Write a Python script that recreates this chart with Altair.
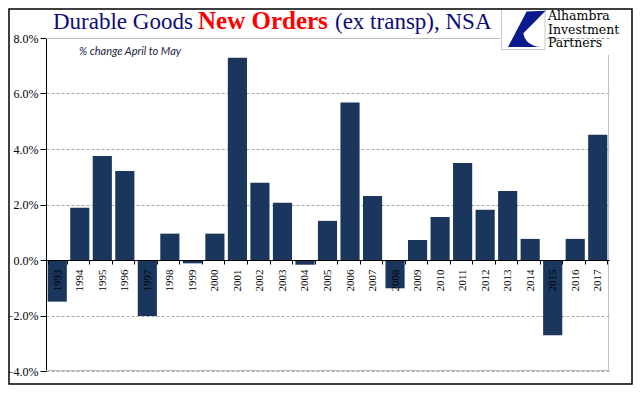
import altair as alt
import pandas as pd

# ---- data ----
years = ["1993", "1994", "1995", "1996", "1997", "1998", "1999", "2000", "2001",
         "2002", "2003", "2004", "2005", "2006", "2007", "2008", "2009", "2010",
         "2011", "2012", "2013", "2014", "2015", "2016", "2017"]
changes = [-1.50, 1.88, 3.75, 3.21, -2.02, 0.95, -0.12, 0.95, 7.29,
           2.78, 2.06, -0.17, 1.41, 5.68, 2.31, -1.02, 0.72, 1.55,
           3.50, 1.81, 2.49, 0.76, -2.71, 0.76, 4.51]
y_ticks = [-4, -2, 0, 2, 4, 6, 8]
y_domain = [-4, 8]
title_parts = ["Durable Goods", "New Orders", "(ex transp), NSA"]
subtitle = "% change April to May"
logo_lines = ["Alhambra", "Investment", "Partners"]

# ---- layout ----
W, H = 563, 333
SERIF = "Liberation Serif"
BAR = "#1a365d"
NAVY = "#0c0c7a"

df = pd.DataFrame({"year": years, "change": changes})
one = pd.DataFrame({"k": [0]})

x = alt.X("year:O", sort=None, title=None,
          scale=alt.Scale(paddingInner=0.15, paddingOuter=0.075),
          axis=alt.Axis(orient="bottom", offset=-H / 3, labelAngle=270,
                        labelFont=SERIF, labelFontSize=11, labelColor="black",
                        domainColor="black", tickColor="black", tickSize=4,
                        tickBand="extent", labelPadding=5, grid=False, zindex=1))
y = alt.Y("change:Q", title=None,
          scale=alt.Scale(domain=y_domain, nice=False),
          axis=alt.Axis(values=y_ticks,
                        labelExpr="format(datum.value, '.1f') + '%'",
                        grid=True, gridDash=[3, 2], gridColor="#a6a6a6",
                        domainColor="black", tickColor="black", tickSize=6,
                        labelFont=SERIF, labelFontSize=12, labelColor="black",
                        labelPadding=2))

bars = alt.Chart(df).mark_bar(color=BAR).encode(x=x, y=y, y2=alt.datum(0))

base = alt.Chart(one)

# plot border (top / right / bottom), gray
top_line = base.mark_rule(color="#bfbfbf", strokeWidth=1).encode(
    x=alt.value(0), x2=alt.value(454), y=alt.value(0.5))
right_line = base.mark_rule(color="#bfbfbf", strokeWidth=1).encode(
    x=alt.value(W - 0.5), y=alt.value(17), y2=alt.value(H))
bottom_line = base.mark_rule(color="#bfbfbf", strokeWidth=1).encode(
    x=alt.value(0), x2=alt.value(W), y=alt.value(H - 0.5))

# title pieces
t1 = base.mark_text(font=SERIF, fontSize=23, color=NAVY, align="left",
                    baseline="alphabetic").encode(
    x=alt.value(7), y=alt.value(-9), text=alt.value(title_parts[0]))
t2 = base.mark_text(font=SERIF, fontSize=25, fontWeight="bold", color="#ff0000",
                    align="left", baseline="alphabetic").encode(
    x=alt.value(152), y=alt.value(-9), text=alt.value(title_parts[1]))
t3 = base.mark_text(font=SERIF, fontSize=23, color=NAVY, align="left",
                    baseline="alphabetic").encode(
    x=alt.value(289), y=alt.value(-9), text=alt.value(title_parts[2]))

sub = base.mark_text(font="Lato", fontSize=11, fontStyle="italic", color="#1c2540",
                     align="left", baseline="alphabetic").encode(
    x=alt.value(33), y=alt.value(17), text=alt.value(subtitle))

# logo
logo_box = base.mark_rect(fill="white", stroke="#c8c8c8", strokeWidth=1).encode(
    x=alt.value(455.5), x2=alt.value(499), y=alt.value(-30.5), y2=alt.value(11.5))
logo_path = "M-0.02,-0.92L0.98,-0.96L-0.19,0.22Q-0.1,0.83 0.68,0.95L-1,0.95Z"
logo_mark = base.mark_point(shape=logo_path, filled=True, size=1444,
                            color="#0a1a8c", opacity=1).encode(
    x=alt.value(481), y=alt.value(-9))
logo_txt = [
    base.mark_text(font="DejaVu Serif", fontSize=12.5, color="black", align="left",
                   baseline="alphabetic").encode(
        x=alt.value(502), y=alt.value(yy), text=alt.value(s))
    for s, yy in zip(logo_lines, [-18, -4.5, 9])
]

# outer frame
frame = base.mark_rect(fill="transparent", stroke="black", strokeWidth=1.5).encode(
    x=alt.value(-37), x2=alt.value(586), y=alt.value(-29), y2=alt.value(346))

chart = alt.layer(
    bars, top_line, right_line, bottom_line, t1, t2, t3, sub,
    logo_box, logo_mark, *logo_txt, frame
).properties(
    width=W, height=H,
    autosize=alt.AutoSizeParams(type="none"),
    padding={"left": 38, "top": 30, "right": 24, "bottom": 15},
    background="white",
).configure_view(stroke="transparent")

chart.save("out.html", embed_options={"renderer": "svg", "actions": False})
